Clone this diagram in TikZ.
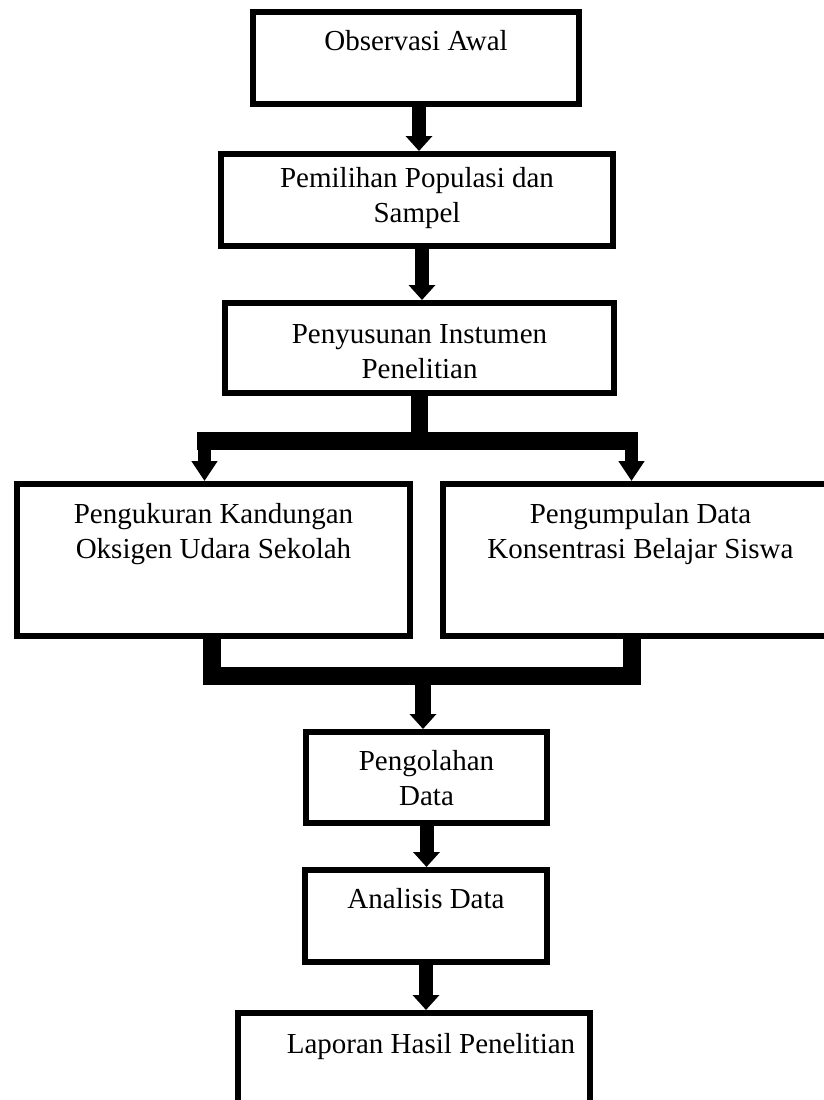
\documentclass[tikz,border=0pt]{standalone}
\usepackage{fontspec}
\setmainfont{Liberation Serif}
\usetikzlibrary{arrows.meta}

% teks di bagian atas kotak
\newcommand{\boxtxt}[4][38pt]{\parbox[t][#3][t]{#2}{\centering\rule{0pt}{#1}#4}}

\begin{document}
\begin{tikzpicture}[x=1pt, y=-1pt, font=\fontsize{29pt}{35pt}\selectfont,
  box/.style={draw, line width=6pt, inner sep=0pt, anchor=north west},
  flow/.style={line width=14pt, -{Triangle[width=26pt, length=15pt]}},
  bus/.style={line width=17pt, line join=miter}]
  \useasboundingbox (0,0) rectangle (824,1100);

  % Kotak-kotak
  \node[box] (p1) at (250,9) {\boxtxt{326pt}{92pt}{Observasi Awal}};
  \node[box] (p2) at (218,151) {\boxtxt[33pt]{392pt}{92pt}{Pemilihan Populasi dan\\Sampel}};
  \node[box] (p3) at (222,300) {\boxtxt[40pt]{389pt}{90pt}{Penyusunan Instumen\\Penelitian}};
  \node[box] (p4) at (14,481) {\boxtxt[39pt]{393pt}{152pt}{Pengukuran Kandungan\\Oksigen Udara Sekolah}};
  \node[box] (p5) at (440,481) {\boxtxt[39pt]{395pt}{152pt}{Pengumpulan Data\\Konsentrasi Belajar Siswa}};
  \node[box] (p6) at (303,729) {\boxtxt{241pt}{91pt}{Pengolahan\\Data}};
  \node[box] (p7) at (302,867) {\boxtxt{242pt}{92pt}{Analisis Data}};
  \node[box] (p8) at (235,1010) {\boxtxt[40pt]{352pt}{110pt}{\hspace*{34pt}Laporan Hasil Penelitian}};

  % Panah lurus
  \coordinate (a1) at ([xshift=3pt]p1.south);
  \coordinate (a2) at ([xshift=5pt]p2.south);
  \draw[flow] (a1) -- (a1 |- p2.north);
  \draw[flow] (a2) -- (a2 |- p3.north);

  % Percabangan
  \coordinate (splitL) at (204.5,441);
  \coordinate (splitR) at (631.5,441);
  \draw[bus] (p3.south) -- (p3.south |- splitL);
  \draw[line width=18pt] ([xshift=-7.5pt]splitL) -- ([xshift=6.5pt]splitR);
  \draw[flow, line width=13pt, -{Triangle[width=25pt, length=20pt]}] (splitL) -- (splitL |- p4.north);
  \draw[flow, line width=13pt, -{Triangle[width=25pt, length=20pt]}] (splitR) -- (splitR |- p5.north);

  % Penggabungan
  \coordinate (joinL) at (211.5,676);
  \coordinate (joinR) at (632,676);
  \coordinate (merge) at (423,676);
  \draw[bus, line width=18pt] (p4.south -| joinL) -- (joinL) -- (joinR) -- (p5.south -| joinR);
  \draw[flow, line width=16pt] (merge) -- (merge |- p6.north);

  \draw[flow] (p6.south) -- (p6.south |- p7.north);
  \draw[flow] (p7.south) -- (p7.south |- p8.north);
\end{tikzpicture}
\end{document}
